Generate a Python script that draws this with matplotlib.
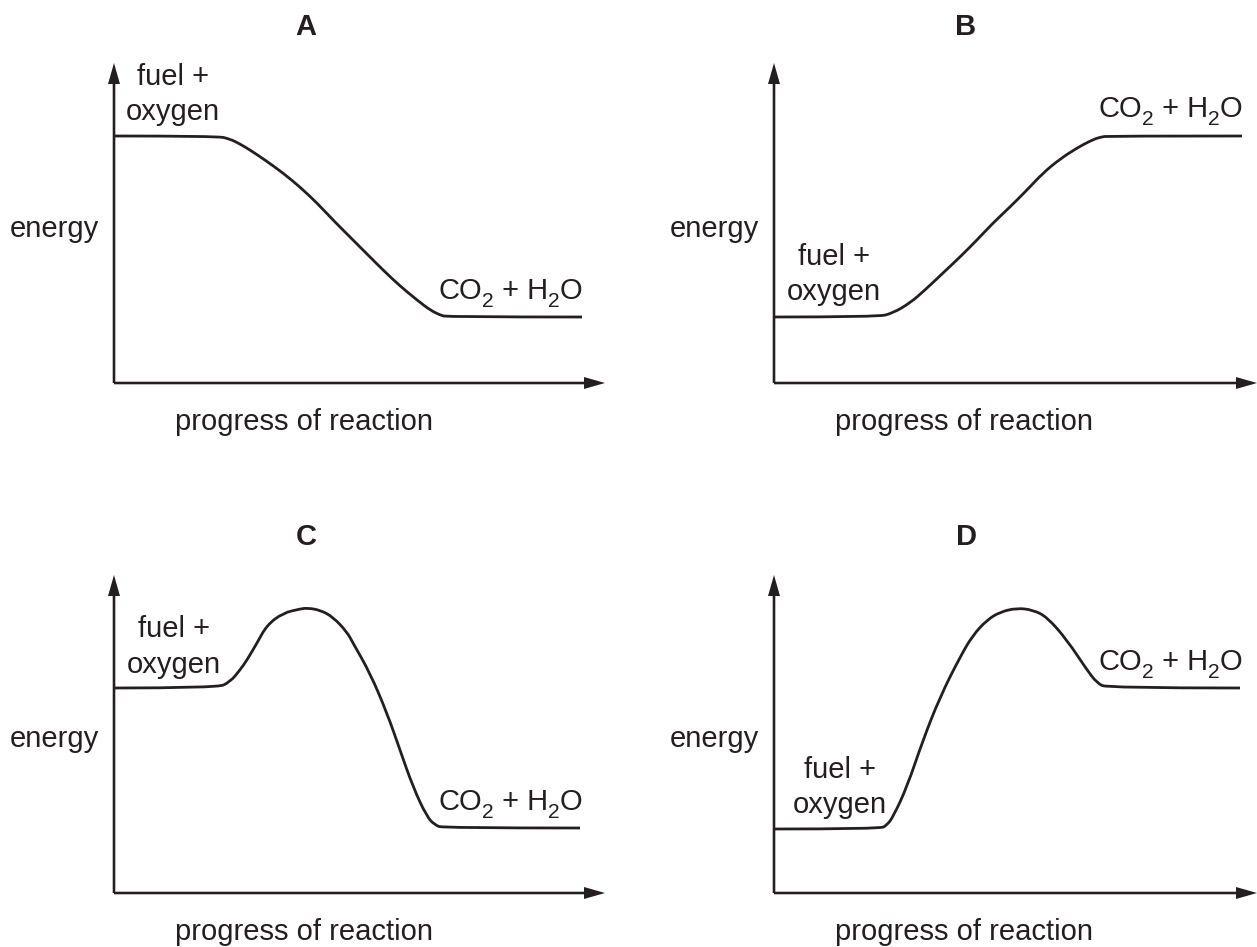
import matplotlib
matplotlib.use("Agg")
import matplotlib.pyplot as plt
from matplotlib.path import Path
from matplotlib.patches import PathPatch

plt.rcParams['font.family'] = ['Liberation Sans', 'DejaVu Sans']

INK = '#231f20'

# ---- data (progress of reaction, energy), one list per panel ----
panel_names = ['A', 'B', 'C', 'D']

progress_A = [0, 103, 116, 126, 136, 151, 169, 186, 203, 219, 236, 253, 269, 286, 303, 316, 326, 333, 468]
energy_A   = [247, 247, 244, 239, 233, 223, 210, 196, 180, 163, 146, 129, 113, 97, 83, 73, 68, 66, 66]

progress_B = [0, 104, 119, 136, 151, 169, 186, 203, 219, 236, 253, 269, 286, 303, 316, 326, 336, 468]
energy_B   = [66, 66, 70, 80, 93, 110, 126, 143, 160, 176, 193, 210, 224, 235, 242, 246, 247, 247]

progress_C = [0, 103, 116, 126, 133, 143, 153, 169, 186, 193, 206, 219, 233, 239, 256, 273, 286, 299, 313, 321, 329, 466]
energy_C   = [205, 205, 211, 223, 233, 250, 268, 280, 284, 285, 283, 276, 261, 250, 220, 180, 143, 106, 76, 68, 65, 65]

progress_D = [0, 106, 113, 119, 133, 149, 166, 186, 199, 213, 226, 243, 259, 273, 293, 313, 323, 333, 466]
energy_D   = [64, 64, 68, 76, 106, 153, 196, 236, 258, 273, 281, 285, 283, 276, 253, 223, 210, 205, 205]

reactant_label = ['fuel +', 'oxygen']
product_parts = ['CO', '2', ' + H', '2', 'O']   # main, subscript, main, subscript, main
y_label = 'energy'
x_label = 'progress of reaction'

# ---- layout (image pixels) ----
FW, FH = 1257, 947
fig = plt.figure(figsize=(FW / 100, FH / 100), dpi=100)

panels = [
    dict(name='A', ox=114, oy=383, xlen=491, ylen=320, x=progress_A, y=energy_A,
         fuel=(59, 298, 263), prod=(324, 84)),
    dict(name='B', ox=774, oy=383, xlen=483, ylen=320, x=progress_B, y=energy_B,
         fuel=(60, 118, 83), prod=(324, 266)),
    dict(name='C', ox=114, oy=893, xlen=491, ylen=318, x=progress_C, y=energy_C,
         fuel=(60, 256, 220), prod=(324, 83)),
    dict(name='D', ox=774, oy=893, xlen=483, ylen=318, x=progress_D, y=energy_D,
         fuel=(66, 115, 80), prod=(324, 223)),
]


def smooth_path(xs, ys):
    """Quadratic B-spline style path through the read points (rendering only)."""
    pts = list(zip(xs, ys))
    verts = [pts[0]]
    codes = [Path.MOVETO]
    n = len(pts)
    for i in range(1, n - 1):
        c = pts[i]
        if i < n - 2:
            e = ((pts[i][0] + pts[i + 1][0]) / 2, (pts[i][1] + pts[i + 1][1]) / 2)
        else:
            e = pts[n - 1]
        verts += [c, e]
        codes += [Path.CURVE3, Path.CURVE3]
    return Path(verts, codes)


FS = 21
SUB = FS * 0.72
W, H = 500, 340
for p in panels:
    ax = fig.add_axes([p['ox'] / FW, (FH - p['oy']) / FH, W / FW, H / FH])
    ax.set_xlim(0, W)
    ax.set_ylim(0, H)
    ax.axis('off')

    # axes arrows
    ax.arrow(0, 0, 0, p['ylen'], width=2.6, head_width=12, head_length=21,
             length_includes_head=True, color=INK, lw=0, clip_on=False)
    ax.arrow(0, 0, p['xlen'], 0, width=2.6, head_width=12, head_length=21,
             length_includes_head=True, color=INK, lw=0, clip_on=False)

    # energy curve
    ax.add_patch(PathPatch(smooth_path(p['x'], p['y']), fill=False, edgecolor=INK,
                           lw=2.0, joinstyle='round', capstyle='butt', clip_on=False))

    # titles and labels
    ax.text(192, 348, p['name'], ha='center', va='baseline', fontsize=FS,
            fontweight='bold', color=INK, clip_on=False)
    ax.text(-15, 146, y_label, ha='right', va='baseline', fontsize=FS,
            color=INK, clip_on=False)
    ax.text(190, -47, x_label, ha='center', va='baseline', fontsize=FS,
            color=INK, clip_on=False)
    fx, fy1, fy2 = p['fuel']
    ax.text(fx, fy1, reactant_label[0], ha='center', va='baseline', fontsize=FS,
            color=INK, clip_on=False)
    ax.text(fx, fy2, reactant_label[1], ha='center', va='baseline', fontsize=FS,
            color=INK, clip_on=False)

    # product label built from pieces so that the subscripts drop like the original
    px_, py_ = p['prod']
    first = ax.text(px_, py_, product_parts[0], ha='left', va='baseline', fontsize=FS,
                    color=INK, clip_on=False)
    prev = first
    for k, part in enumerate(product_parts[1:], start=1):
        if k % 2 == 1:   # subscript
            prev = ax.annotate(part, xy=(1, 0), xycoords=prev, xytext=(0.4, -1.6),
                               textcoords='offset points', ha='left', va='baseline',
                               fontsize=SUB, color=INK, annotation_clip=False)
        else:
            prev = ax.annotate(part, xy=(1, 0), xycoords=(prev, first), xytext=(0, 0),
                               textcoords='offset points', ha='left', va='bottom',
                               fontsize=FS, color=INK, annotation_clip=False)

fig.savefig('out.png', dpi=100, facecolor='white')
